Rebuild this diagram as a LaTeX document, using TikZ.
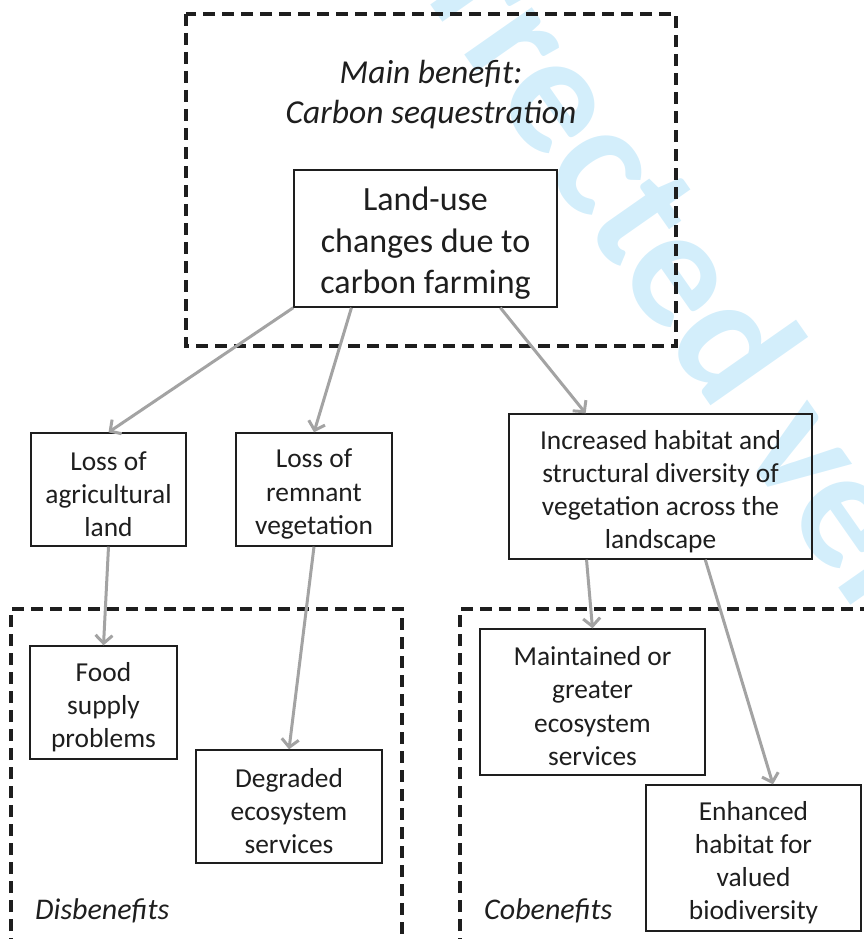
\documentclass[tikz,border=0pt]{standalone}
\usepackage{fontspec}
\setmainfont{Carlito}
\usetikzlibrary{arrows.meta,calc}
\definecolor{ink}{HTML}{1E1E1E}
\definecolor{arrowgray}{HTML}{A3A3A3}
\definecolor{wmark}{HTML}{D3EEFB}
\tikzset{
  box/.style={draw=ink, line width=1.4pt, inner sep=0pt},
  bigtxt/.style={align=center, text=ink, inner sep=0pt, font=\fontsize{34}{41.5}\selectfont},
  smalltxt/.style={align=center, text=ink, inner sep=0pt, font=\fontsize{27.4}{33.2}\selectfont},
  region/.style={draw=ink, line width=3.2pt, dash pattern=on 12pt off 7pt},
  arr/.style={draw=arrowgray, line width=3pt, -{Straight Barb[length=8pt,width=17pt]}},
  lbl/.style={text=ink, font=\fontsize{30}{36}\selectfont\itshape, inner sep=0pt}
}
\begin{document}
\begin{tikzpicture}[x=1pt,y=-1pt]
\useasboundingbox (0,0) rectangle (864,939);
\begin{scope}
\clip (0,0) rectangle (864,939);
\node[text=wmark, rotate=-55, font=\fontsize{170}{170}\selectfont\bfseries, inner sep=0pt] (wm) at (674,250) {Uncorrected version};
\end{scope}
% dashed regions
\draw[region] (186,14) rectangle (676,346);
\draw[region] (11,950) -- (11,609) -- (402,609) -- (402,950);
\draw[region] (460,950) -- (460,609) -- (880,609);
% labels
\node[text=ink, align=center, font=\fontsize{33.5}{40}\selectfont\itshape] (mb) at (431,95) {Main benefit:\\Carbon sequestration};
\node[lbl, anchor=west] (dis) at (35,911) {Disbenefits};
\node[lbl, anchor=west] (cob) at (484,911) {Cobenefits};
% boxes
\node[box, minimum width=263pt, minimum height=137pt] (main) at (425.5,238.5) {};
\node[box, minimum width=155pt, minimum height=113pt] (agri) at (108.5,489.5) {};
\node[box, minimum width=156pt, minimum height=113pt] (remn) at (314,489.5) {};
\node[box, minimum width=303pt, minimum height=145pt] (incr) at (660.5,486.5) {};
\node[box, minimum width=147pt, minimum height=113pt] (food) at (103.5,702.5) {};
\node[box, minimum width=186pt, minimum height=113pt] (degr) at (289,806.5) {};
\node[box, minimum width=225pt, minimum height=146pt] (maint) at (592.5,702) {};
\node[box, minimum width=215pt, minimum height=146pt] (enh) at (753.5,858) {};
% box texts
\node[bigtxt] (maintext) at ([yshift=-5pt]main.center) {Land-use\\changes due to\\carbon farming};
\node[smalltxt] (agritext) at ([yshift=-4.5pt]agri.center) {Loss of\\agricultural\\land};
\node[smalltxt] (remntext) at ([yshift=-4.5pt]remn.center) {Loss of\\remnant\\vegetation};
\node[smalltxt] (incrtext) at ([yshift=-5pt]incr.center) {Increased habitat and\\structural diversity of\\vegetation across the\\landscape};
\node[smalltxt] (foodtext) at ([yshift=-4.5pt]food.center) {Food\\supply\\problems};
\node[smalltxt] (degrtext) at ([yshift=-4.5pt]degr.center) {Degraded\\ecosystem\\services};
\node[smalltxt] (mainttext) at ([yshift=-4pt]maint.center) {Maintained or\\greater\\ecosystem\\services};
\node[smalltxt] (enhtext) at ([yshift=-4.5pt]enh.center) {Enhanced\\habitat for\\valued\\biodiversity};
% arrows
\draw[arr] (main.south west) -- (agri.north);
\draw[arr] ($(main.south west)!0.22!(main.south east)$) -- (remn.north);
\draw[arr] ($(main.south west)!0.783!(main.south east)$) -- ($(incr.north west)!0.254!(incr.north east)$);
\draw[arr] (agri.south) -- (food.north);
\draw[arr] (remn.south) -- (degr.north);
\draw[arr] ($(incr.south west)!0.257!(incr.south east)$) -- (maint.north);
\draw[arr] ($(incr.south west)!0.647!(incr.south east)$) -- ($(enh.north west)!0.59!(enh.north east)$);
\end{tikzpicture}
\end{document}
